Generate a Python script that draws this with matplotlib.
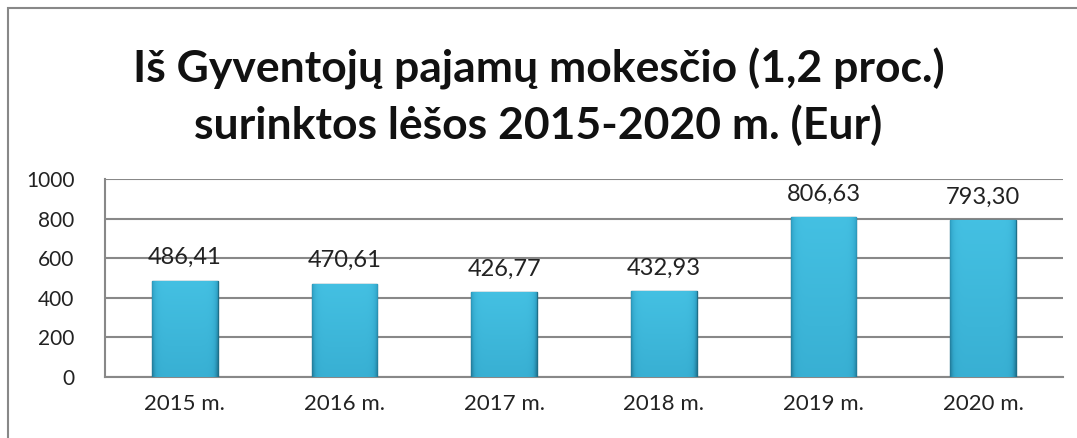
import numpy as np
import matplotlib.pyplot as plt
from matplotlib.patches import Rectangle
from matplotlib.colors import LinearSegmentedColormap

# data
years = ["2015 m.", "2016 m.", "2017 m.", "2018 m.", "2019 m.", "2020 m."]
values = [486.41, 470.61, 426.77, 432.93, 806.63, 793.30]
yticks = [0, 200, 400, 600, 800, 1000]

plt.rcParams['font.family'] = ['Lato', 'DejaVu Sans']

fig = plt.figure(figsize=(10.77, 4.38), dpi=100)
W, H = 1077, 438

# outer chart border (cut off on right and bottom)
fig.patches.append(Rectangle((8 / W, -0.1), 1.2, 1.1 - 8 / H, transform=fig.transFigure,
                             fill=False, edgecolor='#888888', linewidth=1.5))

ax = fig.add_axes([105 / W, 1 - 377 / H, (1063 - 105) / W, (377 - 179) / H])

x = np.arange(len(years))
bw = 0.41
bars = ax.bar(x, values, width=bw, color='#36b0d4', edgecolor='#1f6f88',
              linewidth=1.0, zorder=3)

# soft shading on each bar: lighter on top, darker towards bottom and sides
cmap = LinearSegmentedColormap.from_list('bev', ['#1f7390', '#33a8cc', '#45c2e4'])
gx = np.linspace(-1, 1, 60)
gy = np.linspace(0, 1, 60)
GX, GY = np.meshgrid(gx, gy)
shade = 0.72 + 0.25 * GY - 0.45 * np.abs(GX) ** 10
for b in bars:
    im = ax.imshow(shade, cmap=cmap, vmin=0.2, vmax=1.0, origin='lower', aspect='auto',
                   extent=[b.get_x(), b.get_x() + b.get_width(), 0, b.get_height()],
                   zorder=3.5, interpolation='bilinear')
    im.set_clip_path(b)

for xi, v in zip(x, values):
    label = f"{v:.2f}".replace('.', ',')
    ax.annotate(label, (xi, v), xytext=(0, 9), textcoords='offset points',
                ha='center', va='bottom', fontsize=17, color='#222222')

ax.set_xlim(-0.5, len(years) - 0.5)
ax.set_ylim(0, 1000)
ax.set_yticks(yticks)
ax.set_yticklabels([str(t) for t in yticks], fontsize=15)
ax.set_xticks(x)
ax.set_xticklabels(years, fontsize=16)
ax.tick_params(axis='both', length=0, colors='#222222')
ax.tick_params(axis='x', pad=12)
ax.tick_params(axis='y', pad=22)

ax.grid(axis='y', color='#888888', linewidth=1.5, zorder=0)
for s in ['top', 'right']:
    ax.spines[s].set_visible(False)
ax.spines['left'].set_color('#888888')
ax.spines['left'].set_linewidth(1.5)
ax.spines['bottom'].set_color('#888888')
ax.spines['bottom'].set_linewidth(1.5)

fig.text(0.5, 1 - 97 / H, "Iš Gyventojų pajamų mokesčio (1,2 proc.)\nsurinktos lėšos 2015-2020 m. (Eur)",
         ha='center', va='center', fontsize=32, fontweight='bold', linespacing=1.4,
         color='#111111')

fig.savefig("out.png", dpi=100)
